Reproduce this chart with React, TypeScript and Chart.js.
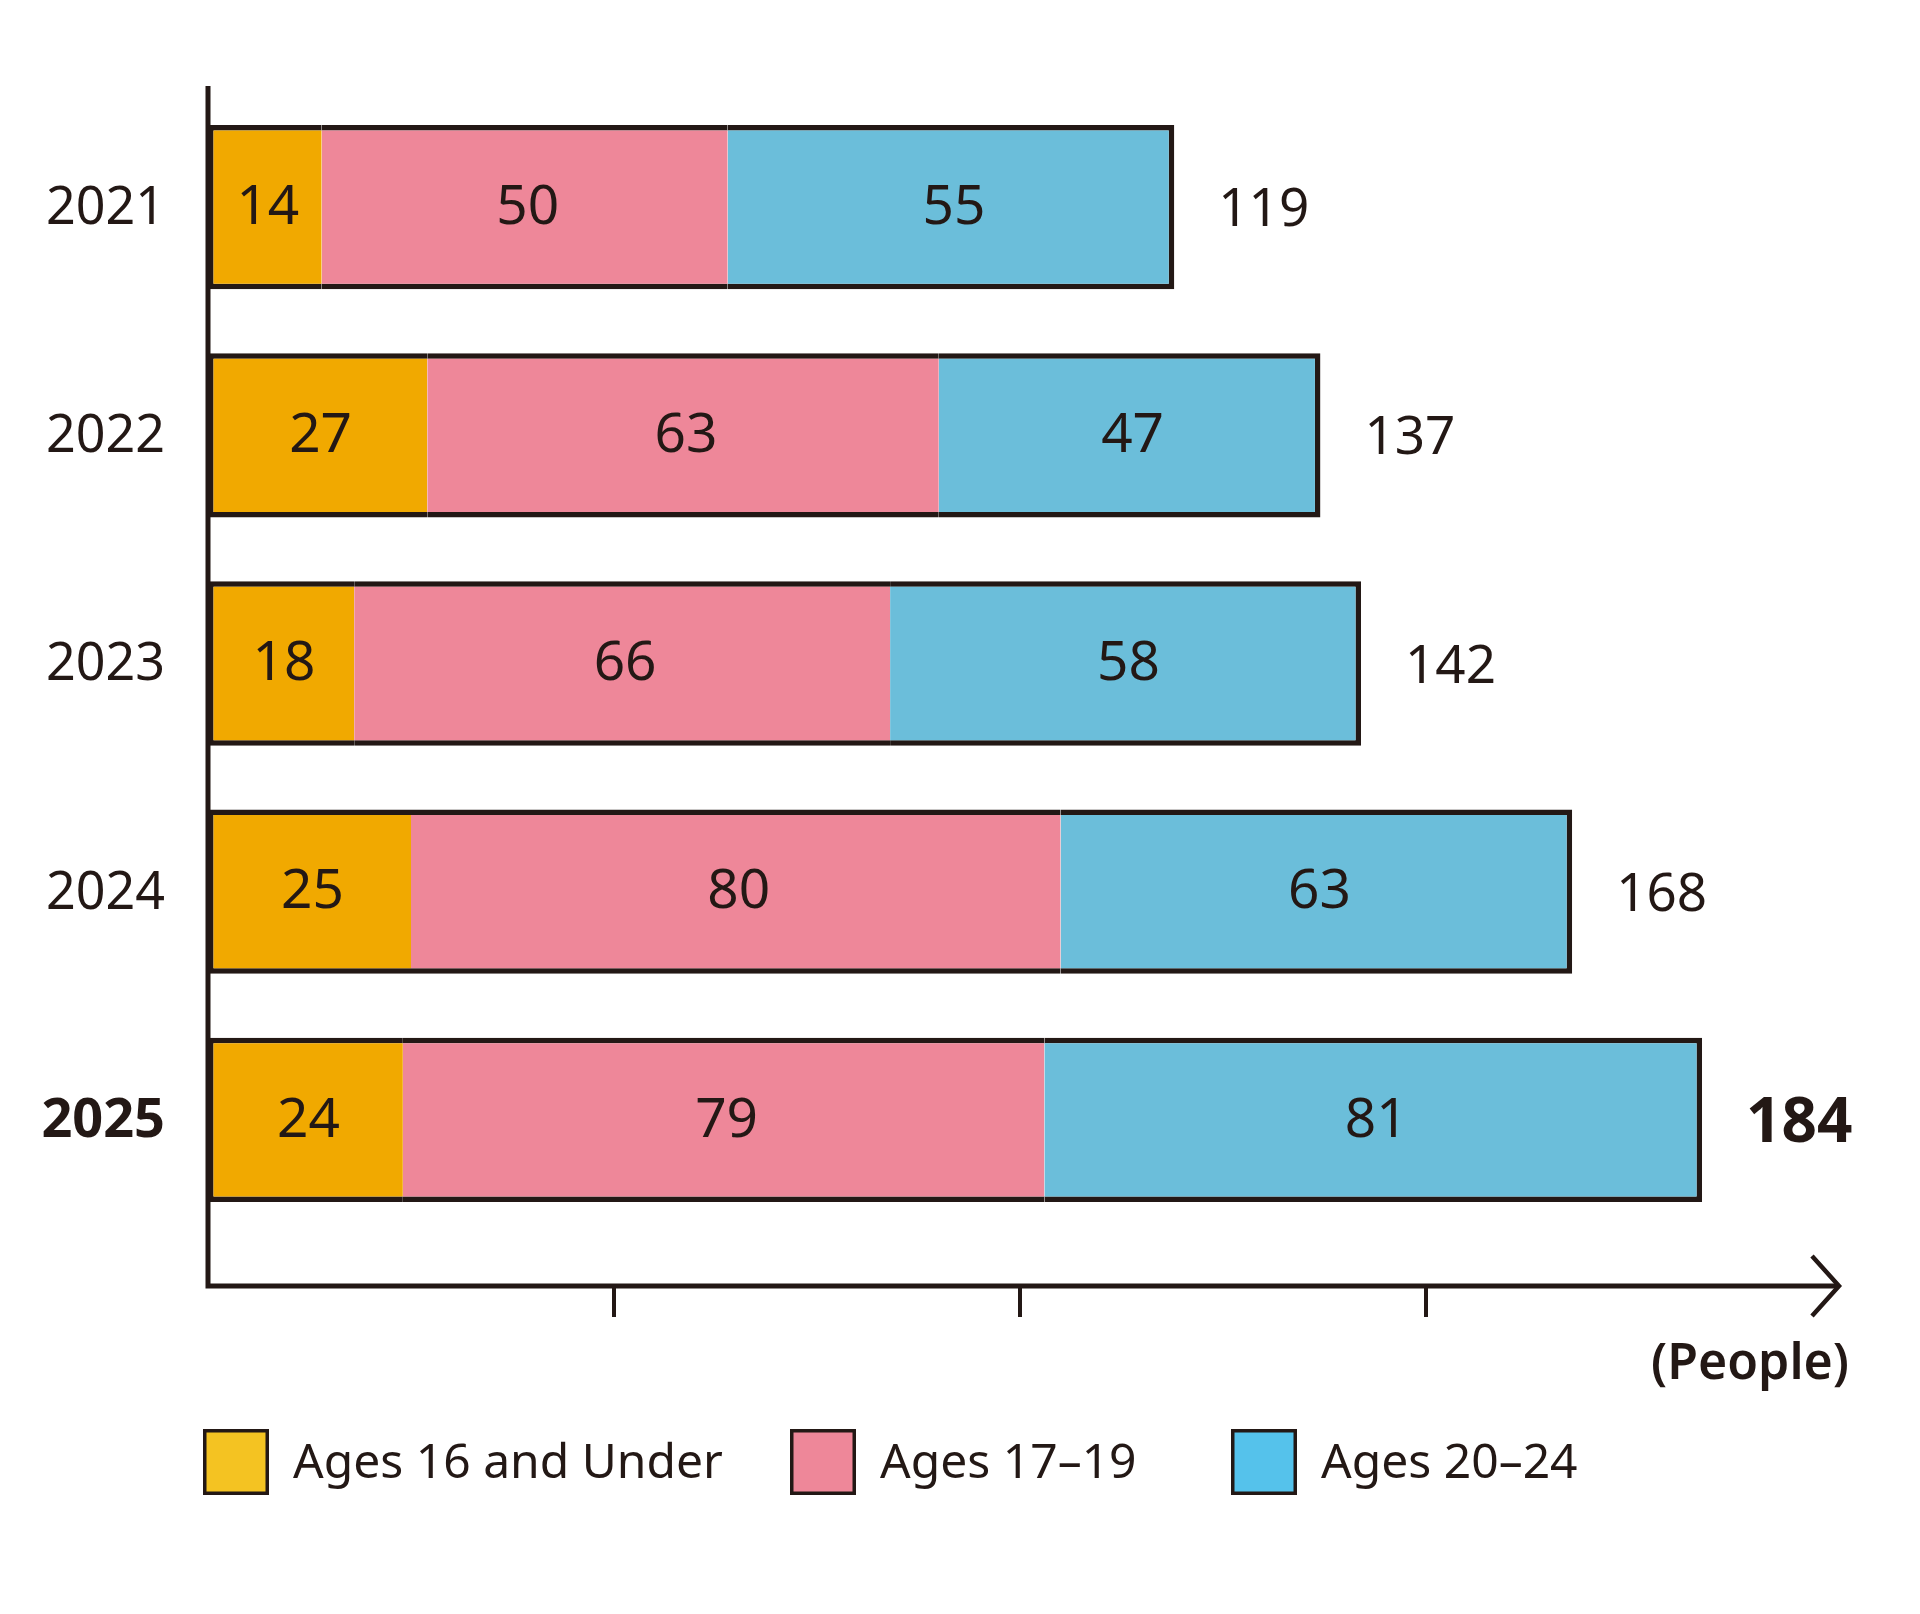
import React, { useEffect, useRef } from "react";
import { Chart, registerables } from "chart.js";

Chart.register(...registerables);

const years = ["2021", "2022", "2023", "2024", "2025"];
const under16 = [14, 27, 18, 25, 24];
const ages17to19 = [50, 63, 66, 80, 79];
const ages20to24 = [55, 47, 58, 63, 81];
const totals = [119, 137, 142, 168, 184];
const seriesNames = ["Ages 16 and Under", "Ages 17–19", "Ages 20–24"];
const barColors = ["#F1A900", "#EE8799", "#6BBEDA"];
const legendColors = ["#F4C322", "#EE8799", "#55C2EB"];
const xTicks = [50, 100, 150];
const xMax = 200;
const unitLabel = "(People)";
const highlightYear = "2025";

const INK = "#231815";
const FONT = "'Noto Sans', sans-serif";

const overlayPlugin = {
  id: "overlay",
  afterDatasetsDraw(chart: any) {
    const ctx = chart.ctx as CanvasRenderingContext2D;
    const { left, right, top, bottom } = chart.chartArea;
    const xs = chart.scales.x;
    const ys = chart.scales.y;
    ctx.save();
    ctx.strokeStyle = INK;
    ctx.fillStyle = INK;

    // axes
    const axisY = bottom + 52;
    const tipX = right + 7;
    ctx.lineWidth = 5;
    ctx.lineJoin = "miter";
    ctx.lineCap = "butt";
    ctx.beginPath();
    ctx.moveTo(left, top - 7);
    ctx.lineTo(left, axisY);
    ctx.lineTo(tipX, axisY);
    ctx.stroke();
    ctx.lineWidth = 4.5;
    ctx.beginPath();
    ctx.moveTo(tipX - 27, axisY - 30);
    ctx.lineTo(tipX, axisY);
    ctx.lineTo(tipX - 27, axisY + 30);
    ctx.stroke();
    ctx.lineWidth = 4;
    xTicks.forEach((v) => {
      const x = xs.getPixelForValue(v);
      ctx.beginPath();
      ctx.moveTo(x, axisY);
      ctx.lineTo(x, axisY + 31);
      ctx.stroke();
    });

    // segment values
    ctx.textBaseline = "middle";
    ctx.textAlign = "center";
    chart.data.datasets.forEach((ds: any, di: number) => {
      const meta = chart.getDatasetMeta(di);
      meta.data.forEach((el: any, i: number) => {
        const cx = (el.x + el.base) / 2;
        ctx.font = `400 55px ${FONT}`;
        ctx.fillText(String(ds.data[i]), cx + 3, el.y + 1);
      });
    });

    // year labels & totals
    years.forEach((yr, i) => {
      const y = ys.getPixelForValue(i);
      const hl = yr === highlightYear;
      ctx.textAlign = "right";
      ctx.font = hl ? `700 54px ${FONT}` : `400 52px ${FONT}`;
      ctx.fillText(yr, left - 43, y + 2);
      ctx.textAlign = "left";
      ctx.font = hl ? `700 62px ${FONT}` : `400 53px ${FONT}`;
      ctx.fillText(String(totals[i]), xs.getPixelForValue(totals[i]) + 44, y + 4);
    });

    // unit label
    ctx.textAlign = "right";
    ctx.font = `600 50px ${FONT}`;
    ctx.fillText(unitLabel, tipX + 10, axisY + 79);

    // legend
    const legendTop = axisY + 143;
    const box = 66;
    const starts = [left - 5, left + 582, left + 1023];
    ctx.textAlign = "left";
    ctx.font = `400 48px ${FONT}`;
    seriesNames.forEach((name, i) => {
      const x = starts[i];
      ctx.fillStyle = legendColors[i];
      ctx.fillRect(x, legendTop, box, box);
      ctx.lineWidth = 3.5;
      ctx.strokeStyle = INK;
      ctx.strokeRect(x + 1.75, legendTop + 1.75, box - 3.5, box - 3.5);
      ctx.fillStyle = INK;
      ctx.fillText(name, x + box + 24, legendTop + box / 2 + 2);
    });
    ctx.restore();
  },
};

export default function App() {
  const ref = useRef<HTMLCanvasElement | null>(null);
  useEffect(() => {
    document.body.style.margin = "0";
    const canvas = ref.current;
    if (!canvas) return;
    const bw = 5.5;
    const chart = new Chart(canvas, {
      type: "bar",
      data: {
        labels: years,
        datasets: [
          {
            label: seriesNames[0],
            data: under16,
            backgroundColor: barColors[0],
            borderColor: INK,
            borderWidth: { top: bw, bottom: bw, left: bw, right: 0 },
            borderSkipped: false,
          },
          {
            label: seriesNames[1],
            data: ages17to19,
            backgroundColor: barColors[1],
            borderColor: INK,
            borderWidth: { top: bw, bottom: bw, left: 0, right: 0 },
            borderSkipped: false,
          },
          {
            label: seriesNames[2],
            data: ages20to24,
            backgroundColor: barColors[2],
            borderColor: INK,
            borderWidth: { top: bw, bottom: bw, left: 0, right: bw },
            borderSkipped: false,
          },
        ],
      },
      options: {
        indexAxis: "y",
        responsive: false,
        animation: false,
        devicePixelRatio: 1,
        datasets: { bar: { categoryPercentage: 1, barPercentage: 0.72 } },
        layout: { padding: { left: 208, right: 88, top: 93, bottom: 380 } },
        plugins: { legend: { display: false }, tooltip: { enabled: false } },
        scales: {
          x: { stacked: true, min: 0, max: xMax, display: false },
          y: { stacked: true, display: false },
        },
      },
      plugins: [overlayPlugin],
    } as any);
    return () => chart.destroy();
  }, []);
  return (
    <div style={{ width: 1920, height: 1614, background: "#fff" }}>
      <canvas ref={ref} width={1920} height={1614} />
    </div>
  );
}
